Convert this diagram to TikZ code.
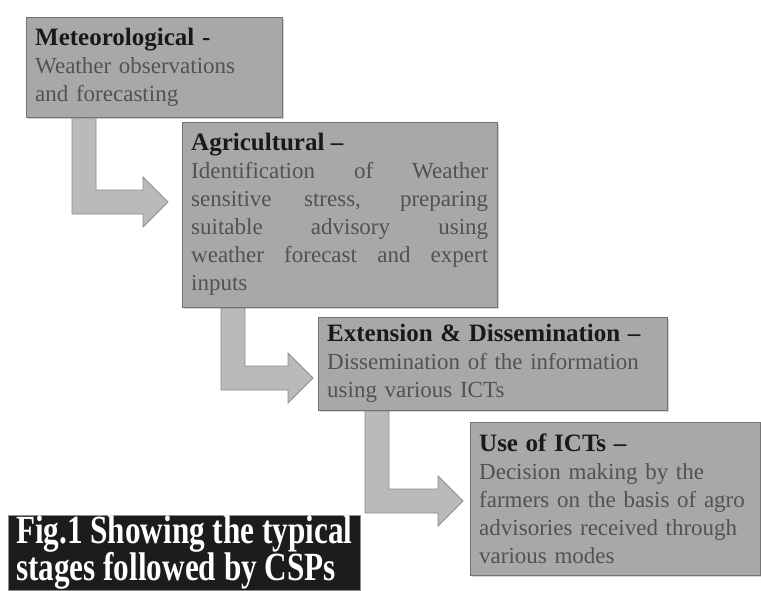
\documentclass[tikz,border=0pt]{standalone}
\usepackage{fontspec}
\setmainfont{Liberation Serif}
\usepackage{graphicx}
\usetikzlibrary{calc, shadows, backgrounds}

\definecolor{boxgray}{RGB}{168,168,168}
\definecolor{arrowgray}{RGB}{186,186,186}
\definecolor{bodygray}{RGB}{82,82,82}
\definecolor{capblack}{RGB}{28,28,28}

\tikzstyle{stage} = [rectangle, anchor=north west, draw=black!55, fill=boxgray, drop shadow={shadow xshift=2pt, shadow yshift=-2pt, opacity=0.35}, inner xsep=9pt, inner ysep=4pt, align=left, font=\fontsize{23}{28}\selectfont, text=bodygray]
\tikzstyle{blockarrow} = [draw=black!45, fill=arrowgray, line width=0.8pt, line join=miter]
\tikzstyle{caption} = [rectangle, anchor=north west, fill=capblack, draw=black!45, inner sep=0pt, text=white]

\newcommand{\ttl}[1]{{\color{black!90}\bfseries\fontsize{25}{28}\selectfont #1}}

% #1 source node, #2 tip coordinate, #3 bar offset from left side of source
\newcommand{\bentarrow}[3]{%
\draw [blockarrow] let \p1 = (#1.south west), \p2 = (#2) in
  (\x1+#3-12pt, \y1+5pt) -- (\x1+#3-12pt, \y2-12pt) -- (\x2-25pt, \y2-12pt) -- (\x2-25pt, \y2-25pt)
  -- (\p2) -- (\x2-25pt, \y2+25pt) -- (\x2-25pt, \y2+12pt) -- (\x1+#3+12pt, \y2+12pt)
  -- (\x1+#3+12pt, \y1+5pt) -- cycle;}

\begin{document}
\begin{tikzpicture}[x=1pt, y=-1pt]

\useasboundingbox (0,0) rectangle (761,590);

\node (met) [stage, text width=238pt, minimum height=100pt] at (26,17) {\ttl{Meteorological -}\\ Weather observations\\ and forecasting};
\node (agri) [stage, text width=297pt, minimum height=185pt, align=justify] at (182,122) {\ttl{Agricultural --}\\ Identification of Weather\linebreak sensitive stress, preparing\linebreak suitable advisory using\linebreak weather forecast and expert\linebreak inputs};
\node (ext) [stage, text width=331pt, minimum height=93pt] at (318,317) {\ttl{Extension \& Dissemination --}\\ Dissemination of the information\\ using various ICTs};
\node (use) [stage, text width=272pt, minimum height=153pt] at (470,422) {\ttl{Use of ICTs --}\\ Decision making by the\\ farmers on the basis of agro\\ advisories received through\\ various modes};

\node (cap) [caption, minimum width=352pt, minimum height=75pt, text height=56pt, text depth=0pt] at (8,515) {\scalebox{0.78}[1]{\fontsize{40}{29}\selectfont\bfseries\begin{tabular}[b]{@{}l@{}}Fig.1 Showing the typical\\ stages followed by CSPs\end{tabular}}};

\coordinate (tipA) at (168,202);
\coordinate (tipB) at (313,378);
\coordinate (tipC) at (463,501);

\begin{scope}[on background layer]
\bentarrow{met}{tipA}{58pt}
\bentarrow{agri}{tipB}{51pt}
\bentarrow{ext}{tipC}{59pt}
\end{scope}

\end{tikzpicture}
\end{document}
